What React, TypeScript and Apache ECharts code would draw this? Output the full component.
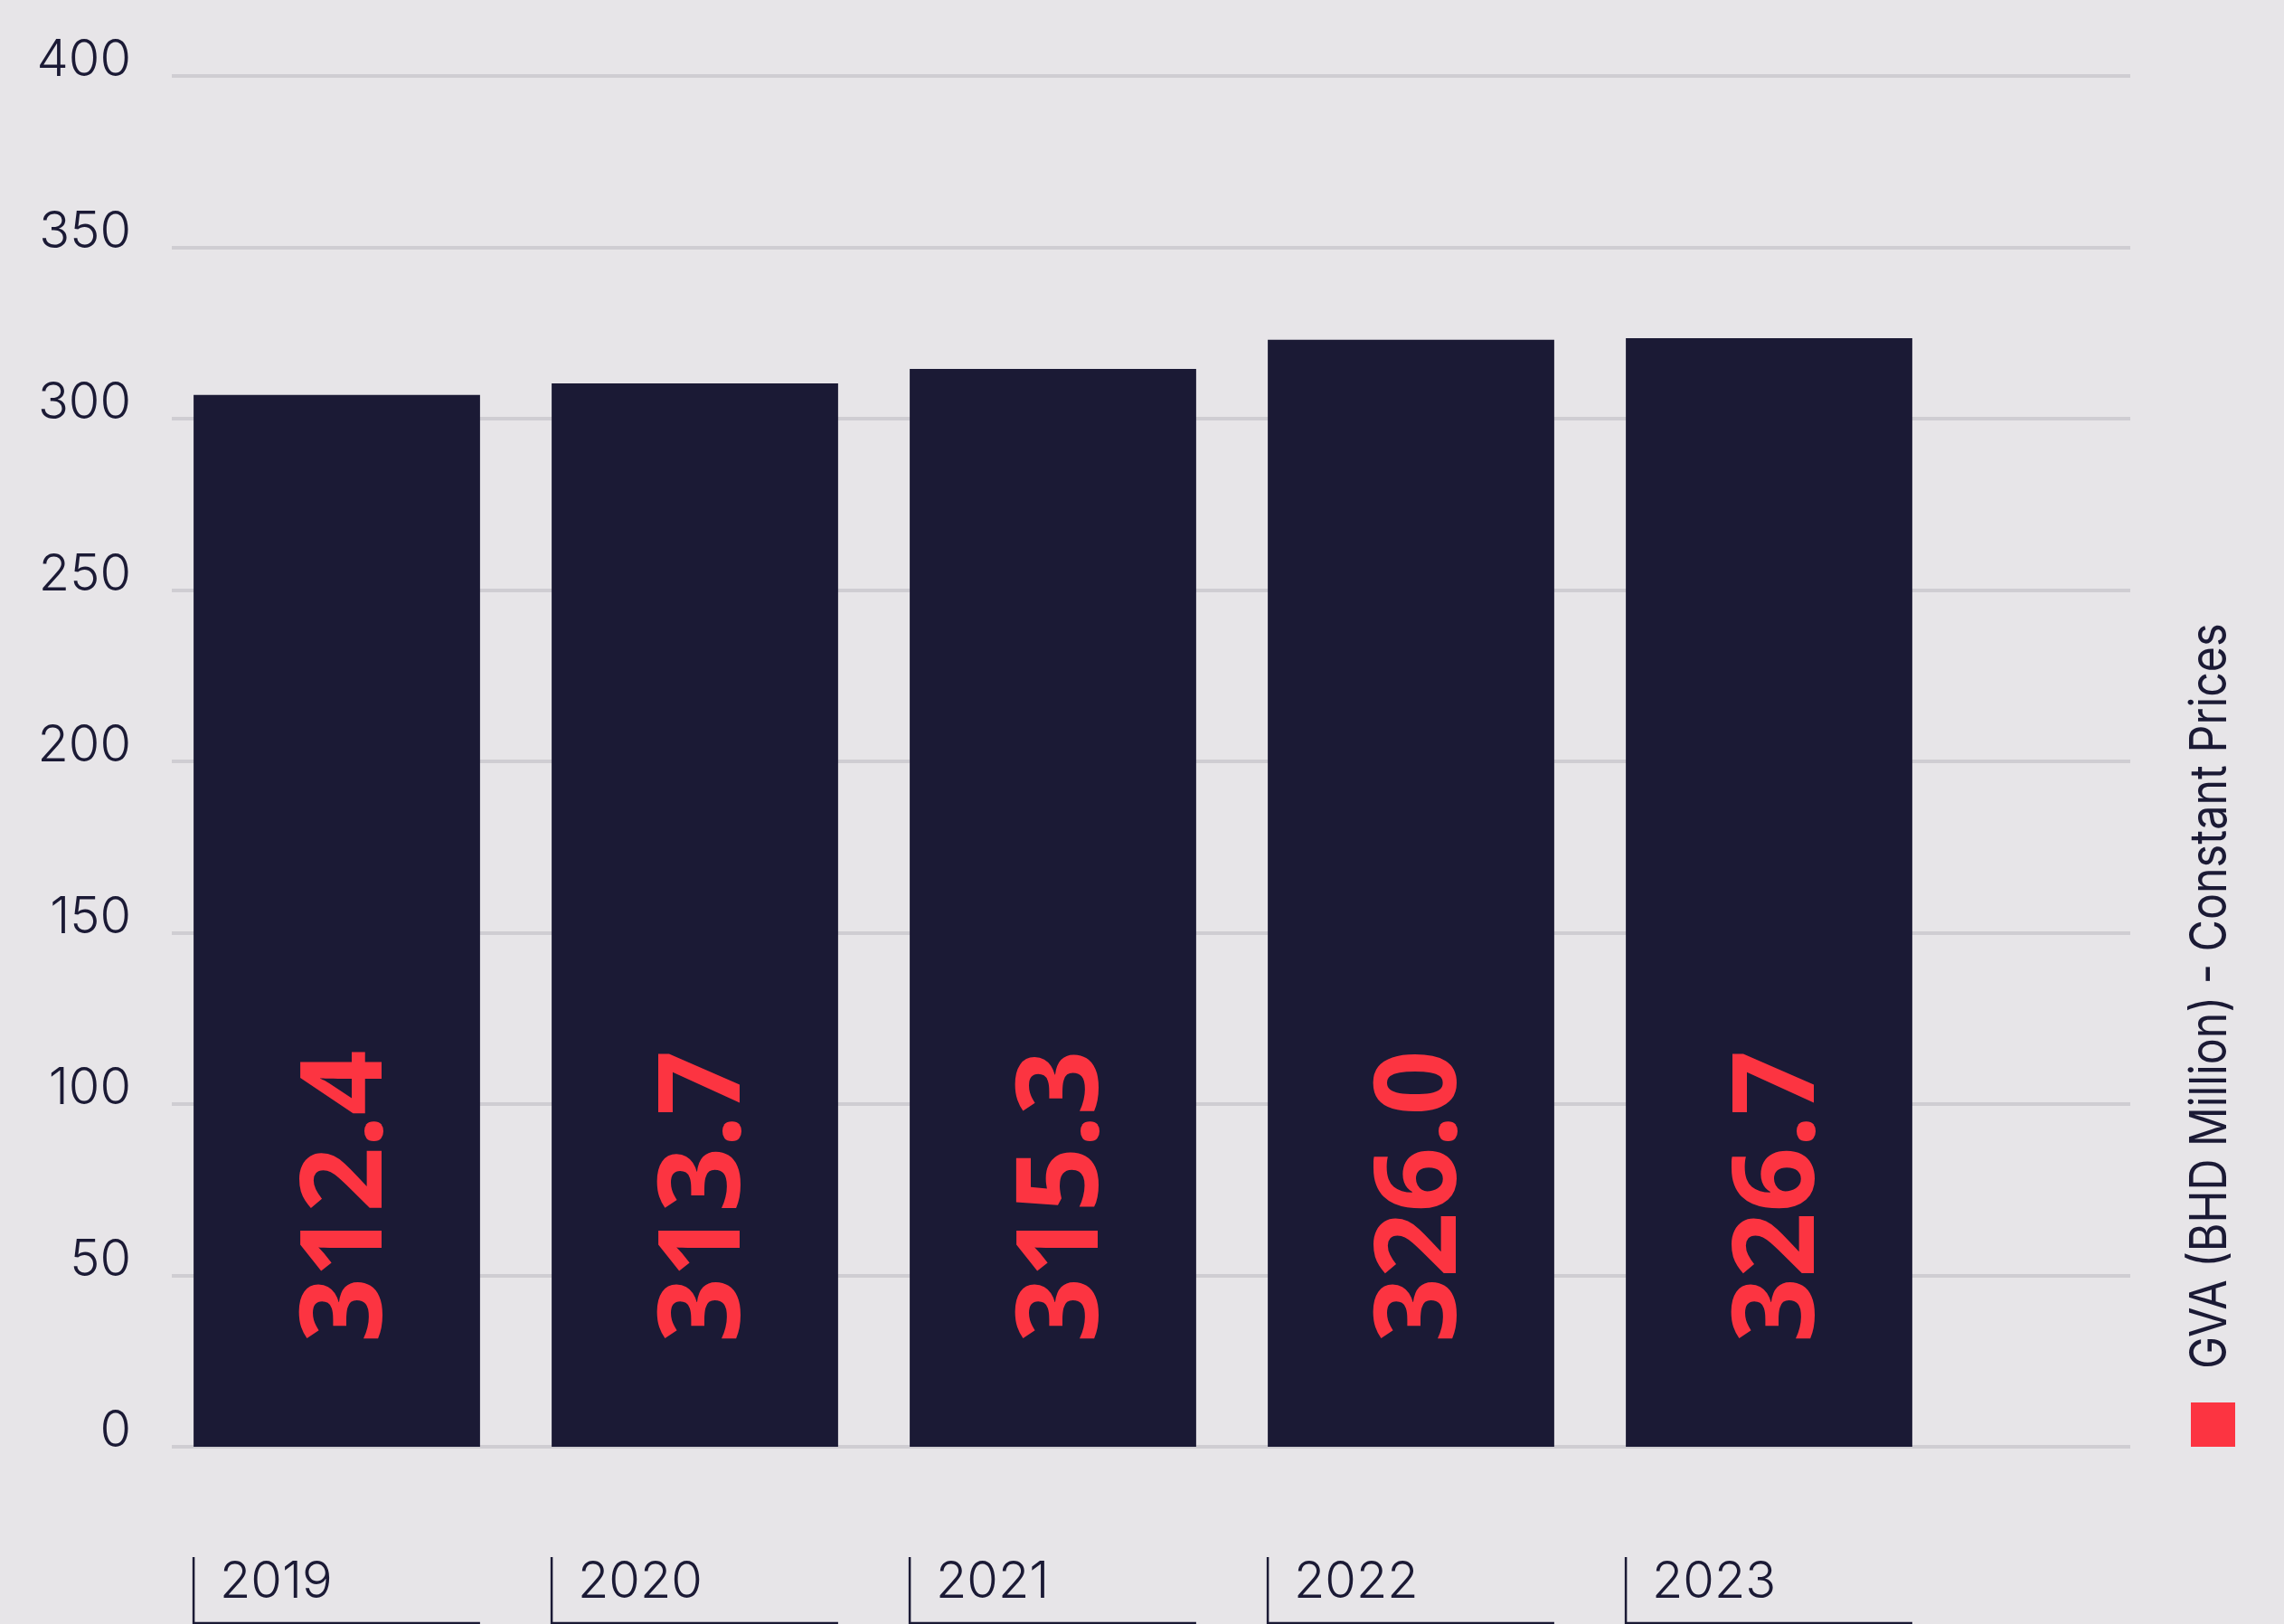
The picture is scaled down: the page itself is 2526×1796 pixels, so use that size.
import React, { useEffect, useRef } from 'react';
import * as echarts from 'echarts';

// ---- data ----
const years = ['2019', '2020', '2021', '2022', '2023'];
// printed values (labels inside bars)
const gvaValues = [312.4, 313.7, 315.3, 326.0, 326.7];
// bar heights as drawn in the reference (read against the y scale)
const barHeights = [306.9, 310.3, 314.5, 323.0, 323.5];
const yMin = 0;
const yMax = 400;
const yInterval = 50;
const legendLabel = 'GVA (BHD Million) - Constant Prices';

const W = 2526;
const H = 1796;
const NAVY = '#1b1a35';
const RED = '#fc3441';
const BG = '#e7e5e8';
const GRIDC = '#cfcdd2';
const FONT = 'Inter';

export default function App() {
  const ref = useRef<HTMLDivElement>(null);
  useEffect(() => {
    document.body.style.margin = '0';
    document.body.style.background = BG;
    const chart = echarts.init(ref.current!, null, { renderer: 'svg', width: W, height: H });
    chart.setOption({
      animation: false,
      backgroundColor: BG,
      grid: [
        { left: 190, right: 170, top: 84, bottom: 196 },
        { left: 174.5, width: 1980, top: 84, bottom: 196 },
      ],
      xAxis: [
        { gridIndex: 0, type: 'value', min: 0, max: 1, show: false },
        {
          gridIndex: 1,
          type: 'category',
          data: years,
          axisLine: { show: false },
          axisTick: { show: false },
          splitLine: { show: false },
          axisLabel: {
            interval: 0,
            margin: 119,
            formatter: (v: string) => `{t|${v}}`,
            rich: {
              t: {
                width: 259,
                align: 'left',
                fontSize: 56,
                lineHeight: 56,
                fontFamily: FONT,
                fontWeight: 300,
                color: NAVY,
              },
            },
          },
        },
      ],
      yAxis: [
        {
          gridIndex: 0,
          type: 'value',
          min: yMin,
          max: yMax,
          interval: yInterval,
          axisLine: { show: false },
          axisTick: { show: false },
          splitLine: { show: true, lineStyle: { color: GRIDC, width: 4 } },
          axisLabel: {
            margin: 45,
            fontSize: 56,
            lineHeight: 40,
            verticalAlign: 'bottom',
            fontFamily: FONT,
            fontWeight: 300,
            color: NAVY,
          },
        },
        { gridIndex: 1, type: 'value', min: yMin, max: yMax, show: false, splitLine: { show: false } },
      ],
      series: [
        {
          type: 'bar',
          name: legendLabel,
          xAxisIndex: 1,
          yAxisIndex: 1,
          data: barHeights,
          barCategoryGap: '20%',
          itemStyle: { color: NAVY },
          label: {
            show: true,
            position: 'insideBottom',
            distance: 115,
            rotate: 90,
            align: 'left',
            verticalAlign: 'middle',
            fontSize: 126,
            fontWeight: 700,
            fontFamily: 'Noto Sans',
            color: RED,
            formatter: (p: any) => gvaValues[p.dataIndex].toFixed(1),
          },
        },
        {
          type: 'custom',
          xAxisIndex: 1,
          yAxisIndex: 1,
          clip: false,
          silent: true,
          data: years.map((_, i) => [i, 0]),
          renderItem: (params: any, api: any) => {
            const base = api.coord([api.value(0), 0]);
            const band = api.size([1, 0])[0];
            const bw = band * 0.8;
            const l = base[0] - bw / 2;
            const r = base[0] + bw / 2;
            return {
              type: 'polyline',
              shape: { points: [[l, base[1] + 122], [l, base[1] + 195], [r, base[1] + 195]] },
              style: { stroke: NAVY, lineWidth: 2.5, fill: 'none' },
            };
          },
        },
      ],
      graphic: [
        {
          type: 'rect',
          x: 2423,
          y: 1551,
          shape: { x: 0, y: 0, width: 49, height: 49 },
          style: { fill: RED },
        },
        {
          type: 'text',
          x: 2442,
          y: 1514,
          rotation: Math.PI / 2,
          scaleX: 0.865,
          style: {
            text: legendLabel,
            fontSize: 56,
            fontFamily: FONT,
            fontWeight: 400,
            fill: NAVY,
            align: 'left',
            verticalAlign: 'middle',
            textAlign: 'left',
            textVerticalAlign: 'middle',
          },
        },
      ],
    });
    return () => chart.dispose();
  }, []);
  return (
    <div
      ref={ref}
      style={{ position: 'fixed', left: 0, top: 0, width: W, height: H, background: BG }}
    />
  );
}
